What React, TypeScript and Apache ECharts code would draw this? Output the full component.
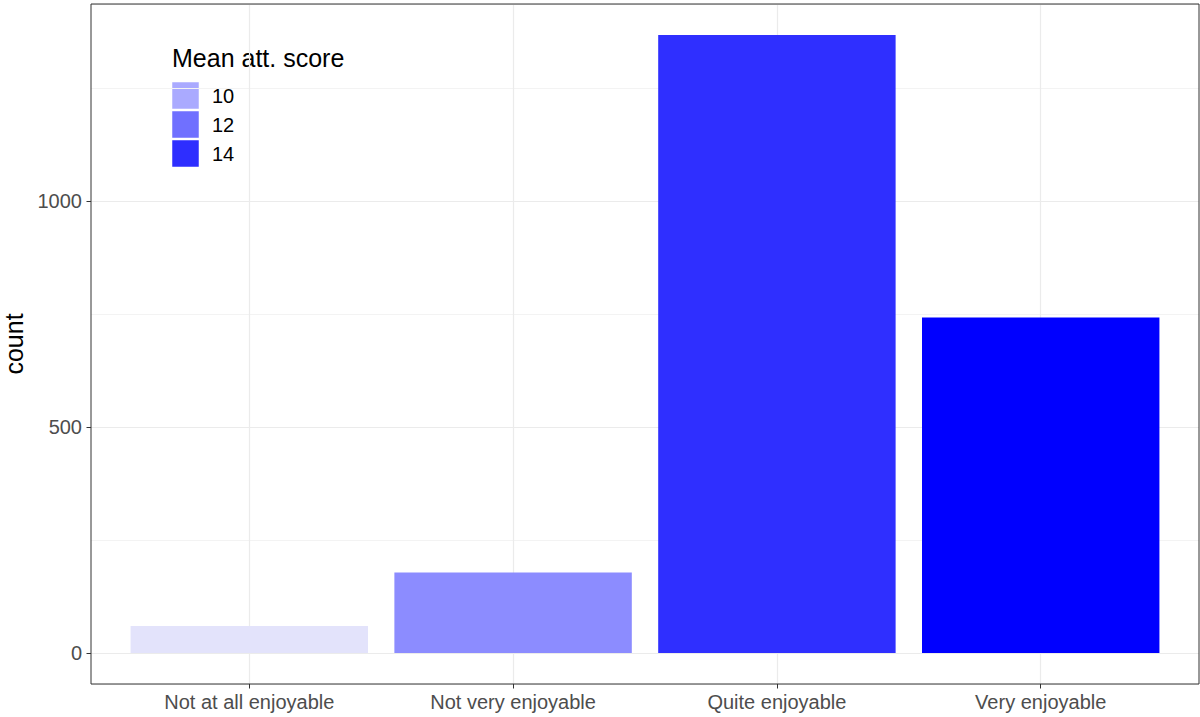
import React, { useEffect, useRef } from "react";
import * as echarts from "echarts";

const categories = ["Not at all enjoyable", "Not very enjoyable", "Quite enjoyable", "Very enjoyable"];
const counts = [60, 178, 1367, 742];
const barColors = ["#e3e3fb", "#8c8cff", "#2f2fff", "#0000ff"];
const legendTitle = "Mean att. score";
const legendLabels = ["10", "12", "14"];
const legendColors = ["#aaaaff", "#7070ff", "#2e2eff"];
const yLabelTicks = [0, 500, 1000];
const xTicks = [1, 2, 3, 4];

const FONT = "Liberation Sans, Arial, Helvetica, sans-serif";

export default function App() {
  const ref = useRef<HTMLDivElement>(null);
  useEffect(() => {
    if (!ref.current) return;
    const chart = echarts.init(ref.current, null, { renderer: "svg" });
    const maxCount = Math.max(...counts);
    const yMin = -0.05 * maxCount;
    const yMax = maxCount * 1.05;

    const legendChildren: any[] = [
      { type: "rect", shape: { x: 0, y: 0, width: 193, height: 143 }, style: { fill: "#ffffff" } },
      {
        type: "text",
        x: 11,
        y: 24,
        style: { text: legendTitle, fill: "#000000", font: `25px ${FONT}`, verticalAlign: "middle", align: "left" },
      },
    ];
    legendLabels.forEach((lab, i) => {
      legendChildren.push({
        type: "rect",
        shape: { x: 11, y: 48 + i * 29, width: 27, height: 27 },
        style: { fill: legendColors[i], stroke: "#ffffff", lineWidth: 0.5 },
      });
      legendChildren.push({
        type: "text",
        x: 51,
        y: 48 + i * 29 + 14,
        style: { text: lab, fill: "#000000", font: `20px ${FONT}`, verticalAlign: "middle", align: "left" },
      });
    });

    chart.setOption({
      animation: false,
      backgroundColor: "#ffffff",
      textStyle: { fontFamily: FONT },
      grid: {
        left: 91,
        right: 1,
        top: 4,
        bottom: 33,
        containLabel: false,
        outerBoundsMode: "none",
        show: true,
        borderColor: "#333333",
        borderWidth: 1,
        backgroundColor: "transparent",
        z: 3,
      },
      xAxis: {
        type: "value",
        min: 0.4,
        max: 4.6,
        minInterval: 1,
        maxInterval: 1,
        axisLine: { show: false, onZero: false },
        axisTick: { show: true, length: 4.5, lineStyle: { color: "#333333" }, customValues: xTicks },
        axisLabel: {
          show: true,
          color: "#4d4d4d",
          fontSize: 20,
          margin: 8,
          customValues: xTicks,
          formatter: (v: number) => {
            const i = Math.round(v) - 1;
            return Math.abs(v - Math.round(v)) < 1e-6 && i >= 0 && i < categories.length ? categories[i] : "";
          },
        },
        splitLine: { show: true, lineStyle: { color: "#ebebeb", width: 1.2 } },
      },
      yAxis: [
        {
          type: "value",
          position: "left",
          min: yMin,
          max: yMax,
          minInterval: 250,
          maxInterval: 250,
          axisLine: { show: false, onZero: false },
          axisTick: { show: false },
          axisLabel: { show: false },
          splitLine: { show: true, lineStyle: { color: ["#f3f3f3", "#ebebeb"], width: 1.2 } },
        },
        {
          type: "value",
          position: "left",
          min: yMin,
          max: yMax,
          minInterval: 500,
          maxInterval: 500,
          axisLine: { show: false, onZero: false },
          axisTick: { show: true, length: 4.5, lineStyle: { color: "#333333" }, customValues: yLabelTicks },
          axisLabel: {
            show: true,
            color: "#4d4d4d",
            fontSize: 20,
            margin: 9,
            customValues: yLabelTicks,
            formatter: (v: number) => String(v),
          },
          splitLine: { show: false },
          name: "count",
          nameLocation: "middle",
          nameGap: 54,
          nameTextStyle: { color: "#000000", fontSize: 25, fontFamily: FONT },
        },
      ],
      series: [
        {
          type: "bar",
          xAxisIndex: 0,
          yAxisIndex: 0,
          barWidth: "90%",
          z: 2,
          data: categories.map((c, i) => ({
            name: c,
            value: [i + 1, counts[i]],
            itemStyle: { color: barColors[i] },
          })),
        },
      ],
      graphic: [
        {
          type: "group",
          left: 161,
          top: 34,
          z: 10,
          children: legendChildren,
        },
      ],
    });
    return () => chart.dispose();
  }, []);
  return <div ref={ref} style={{ position: "absolute", left: 0, top: 0, width: 1200, height: 717 }} />;
}
